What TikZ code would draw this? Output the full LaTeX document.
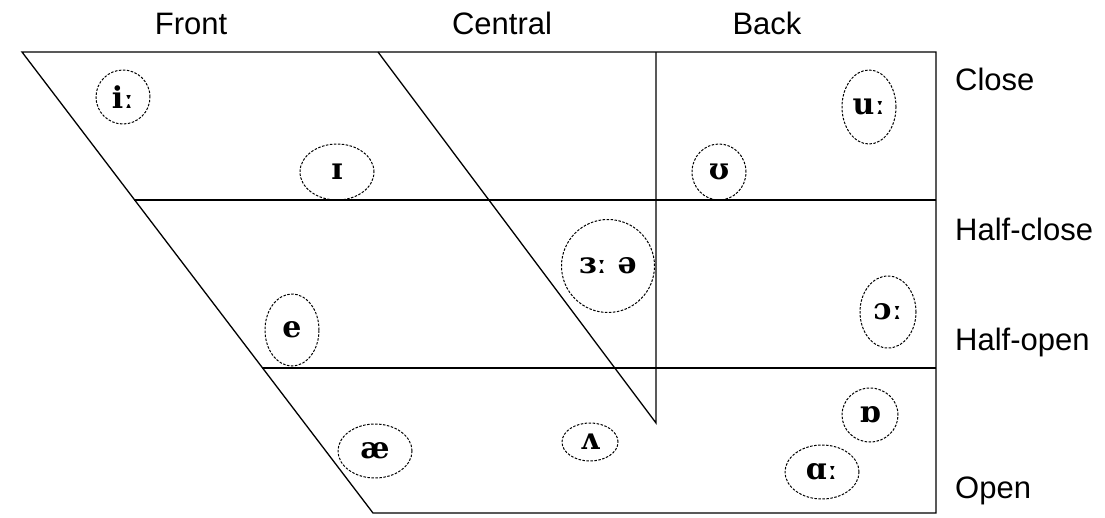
\documentclass[tikz,border=0pt]{standalone}
\usepackage{fontspec}
\setmainfont{Liberation Serif}
\newfontfamily\labfont{Liberation Sans}
\newfontfamily\ipafont{DejaVu Serif}
\usetikzlibrary{shapes.geometric}
\begin{document}
\begin{tikzpicture}[x=1pt,y=-1pt,
  chartline/.style={draw=black,line width=1.3pt},
  vowel/.style={ellipse,draw=black,line width=1pt,dash pattern=on 2.5pt off 1.5pt,inner sep=0pt,
    font=\ipafont\bfseries\fontsize{30}{30}\selectfont},
  axislab/.style={font=\labfont\fontsize{31}{31}\selectfont,inner sep=0pt},
]
\useasboundingbox (0,0) rectangle (1105,517);
% chart corners
\coordinate (tl) at (22,52);
\coordinate (tr) at (936,52);
\coordinate (br) at (936,513);
\coordinate (bl) at (373,513);
\coordinate (h1l) at (134,200);
\coordinate (h1r) at (936,200);
\coordinate (h2l) at (262,368);
\coordinate (h2r) at (936,368);
\coordinate (ct) at (378,52);
\coordinate (cb) at (656,423);
\coordinate (vt) at (656,52);
% outline
\draw[chartline] (tl) -- (tr) -- (br) -- (bl) -- cycle;
\draw[chartline] (h1l) -- (h1r);
\draw[chartline] (h2l) -- (h2r);
\draw[chartline] (ct) -- (cb) -- (vt);
% axis labels
\node[axislab,anchor=base] (front) at (191,34) {Front};
\node[axislab,anchor=base] (central) at (502,34) {Central};
\node[axislab,anchor=base] (back) at (767,34) {Back};
\node[axislab,anchor=base west] (close) at (955,90) {Close};
\node[axislab,anchor=base west] (halfclose) at (955,240) {Half-close};
\node[axislab,anchor=base west] (halfopen) at (955,350) {Half-open};
\node[axislab,anchor=base west] (open) at (955,498) {Open};
% vowels
\node[vowel,minimum width=54pt,minimum height=54pt] (ii) at (123,97) {iː};
\node[vowel,minimum width=74pt,minimum height=56pt] (ih) at (337,172) {ɪ};
\node[vowel,minimum width=54pt,minimum height=56pt] (uh) at (719,172) {ʊ};
\node[vowel,minimum width=54pt,minimum height=74pt] (uu) at (869,107) {uː};
\node[vowel,minimum width=93pt,minimum height=93pt] (er) at (608,266) {ɜː ə};
\node[vowel,minimum width=54pt,minimum height=72pt] (e) at (292,330) {e};
\node[vowel,minimum width=74pt,minimum height=54pt] (ae) at (375,451) {æ};
\node[vowel,minimum width=56pt,minimum height=38pt] (uhv) at (590,442) {ʌ};
\node[vowel,minimum width=56pt,minimum height=72pt] (oo) at (888,312) {ɔː};
\node[vowel,minimum width=56pt,minimum height=54pt] (o) at (870,415) {ɒ};
\node[vowel,minimum width=74pt,minimum height=54pt] (aa) at (822,472) {ɑː};
\end{tikzpicture}
\end{document}
